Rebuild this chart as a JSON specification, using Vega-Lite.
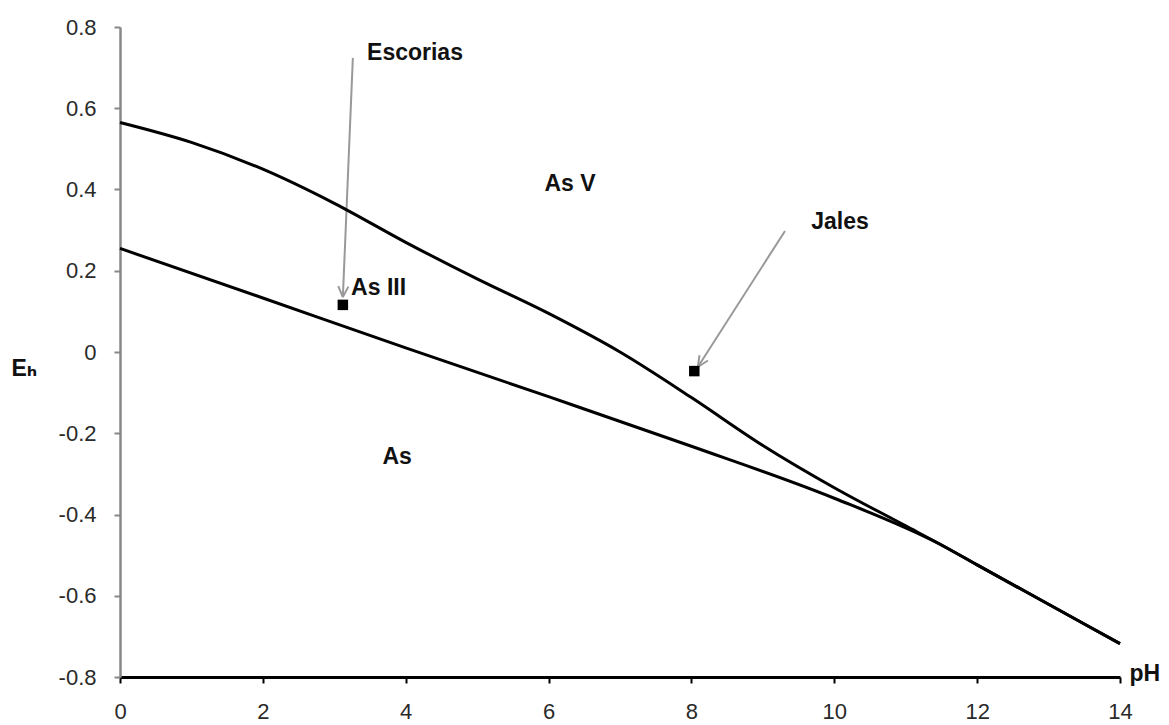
{
  "$schema": "https://vega.github.io/schema/vega-lite/v6.json",
  "width": 1000,
  "height": 650,
  "autosize": {"type": "none"},
  "padding": {"left": 120, "top": 27, "right": 49, "bottom": 48},
  "background": "white",
  "config": {
    "view": {"stroke": null},
    "font": "Liberation Sans",
    "axis": {"grid": false}
  },
  "datasets": {
    "curves": [
      {"boundary": "AsV/AsIII", "pH": 0, "E": 0.565},
      {"boundary": "AsV/AsIII", "pH": 1, "E": 0.516},
      {"boundary": "AsV/AsIII", "pH": 2, "E": 0.45},
      {"boundary": "AsV/AsIII", "pH": 3, "E": 0.366},
      {"boundary": "AsV/AsIII", "pH": 4, "E": 0.27},
      {"boundary": "AsV/AsIII", "pH": 5, "E": 0.18},
      {"boundary": "AsV/AsIII", "pH": 6, "E": 0.095},
      {"boundary": "AsV/AsIII", "pH": 7, "E": 0.0},
      {"boundary": "AsV/AsIII", "pH": 8, "E": -0.112},
      {"boundary": "AsV/AsIII", "pH": 9, "E": -0.23},
      {"boundary": "AsV/AsIII", "pH": 10, "E": -0.334},
      {"boundary": "AsV/AsIII", "pH": 11, "E": -0.428},
      {"boundary": "AsV/AsIII", "pH": 11.5, "E": -0.475},
      {"boundary": "AsV/AsIII", "pH": 12, "E": -0.524},
      {"boundary": "AsV/AsIII", "pH": 13, "E": -0.621},
      {"boundary": "AsV/AsIII", "pH": 14, "E": -0.718},
      {"boundary": "AsIII/As", "pH": 0, "E": 0.255},
      {"boundary": "AsIII/As", "pH": 2, "E": 0.133},
      {"boundary": "AsIII/As", "pH": 4, "E": 0.01},
      {"boundary": "AsIII/As", "pH": 6, "E": -0.11},
      {"boundary": "AsIII/As", "pH": 8, "E": -0.232},
      {"boundary": "AsIII/As", "pH": 10, "E": -0.36},
      {"boundary": "AsIII/As", "pH": 11.5, "E": -0.475},
      {"boundary": "AsIII/As", "pH": 12, "E": -0.524},
      {"boundary": "AsIII/As", "pH": 13, "E": -0.621},
      {"boundary": "AsIII/As", "pH": 14, "E": -0.718}
    ],
    "samples": [
      {"sample": "Escorias", "pH": 3.12, "E": 0.116},
      {"sample": "Jales", "pH": 8.04, "E": -0.047}
    ],
    "arrows": [
      {"part": "shaft", "pH": 3.26, "E": 0.724, "pH2": 3.12, "E2": 0.135},
      {"part": "head", "pH": 3.12, "E": 0.135, "pH2": 3.197, "E2": 0.161},
      {"part": "head", "pH": 3.12, "E": 0.135, "pH2": 3.056, "E2": 0.162},
      {"part": "shaft", "pH": 9.31, "E": 0.298, "pH2": 8.09, "E2": -0.037},
      {"part": "head", "pH": 8.09, "E": -0.037, "pH2": 8.231, "E2": -0.021},
      {"part": "head", "pH": 8.09, "E": -0.037, "pH2": 8.112, "E2": -0.008}
    ],
    "labels": [
      {"text": "As V", "pH": 6.3, "E": 0.414},
      {"text": "As III", "pH": 3.62, "E": 0.158},
      {"text": "As", "pH": 3.88, "E": -0.258},
      {"text": "Escorias", "pH": 4.13, "E": 0.736},
      {"text": "Jales", "pH": 10.08, "E": 0.32}
    ]
  },
  "layer": [
    {
      "data": {"name": "arrows"},
      "mark": {"type": "rule", "color": "#999999", "strokeWidth": 2},
      "encoding": {
        "x": {"field": "pH", "type": "quantitative"},
        "y": {"field": "E", "type": "quantitative"},
        "x2": {"field": "pH2"},
        "y2": {"field": "E2"}
      }
    },
    {
      "data": {"name": "curves"},
      "mark": {"type": "line", "color": "black", "strokeWidth": 3, "interpolate": "monotone"},
      "encoding": {
        "x": {
          "field": "pH", "type": "quantitative",
          "scale": {"domain": [0, 14], "nice": false, "zero": false},
          "axis": {
            "values": [0, 2, 4, 6, 8, 10, 12, 14],
            "format": "d",
            "title": "pH",
            "titleFont": "Liberation Sans",
            "titleFontSize": 23,
            "titleFontWeight": "bold",
            "titleColor": "#111111",
            "titleAnchor": null,
            "titleAlign": "left",
            "titleBaseline": "alphabetic",
            "titleX": 1009,
            "titleY": 3,
            "domainColor": "black",
            "domainWidth": 3,
            "tickColor": "black",
            "tickWidth": 2,
            "tickSize": 6,
            "labelFontSize": 22,
            "labelColor": "#2a2a2a",
            "labelPadding": 18,
            "labelFlush": false
          }
        },
        "y": {
          "field": "E", "type": "quantitative",
          "scale": {"domain": [-0.8, 0.8], "nice": false, "zero": false},
          "axis": {
            "values": [-0.8, -0.6, -0.4, -0.2, 0, 0.2, 0.4, 0.6, 0.8],
            "labelExpr": "datum.value == 0 ? '0' : (datum.value < 0 ? '-' + format(-datum.value, '.1f') : format(datum.value, '.1f'))",
            "title": "Eₕ",
            "titleFont": "Liberation Sans, DejaVu Sans",
            "titleFontSize": 23,
            "titleFontWeight": "bold",
            "titleColor": "#111111",
            "titleAngle": 0,
            "titleAnchor": null,
            "titleAlign": "left",
            "titleBaseline": "alphabetic",
            "titleX": -109,
            "titleY": 348,
            "domainColor": "#888888",
            "domainWidth": 2.5,
            "tickColor": "#888888",
            "tickWidth": 2,
            "tickSize": 6,
            "labelFontSize": 22,
            "labelColor": "#2a2a2a",
            "labelPadding": 18,
            "labelFlush": false
          }
        },
        "detail": {"field": "boundary"}
      }
    },
    {
      "data": {"name": "samples"},
      "mark": {"type": "point", "shape": "square", "filled": true, "color": "black", "size": 110, "opacity": 1},
      "encoding": {
        "x": {"field": "pH", "type": "quantitative"},
        "y": {"field": "E", "type": "quantitative"}
      }
    },
    {
      "data": {"name": "labels"},
      "mark": {"type": "text", "font": "Liberation Sans", "fontSize": 23, "fontWeight": "bold", "color": "#111111", "align": "center", "baseline": "middle"},
      "encoding": {
        "x": {"field": "pH", "type": "quantitative"},
        "y": {"field": "E", "type": "quantitative"},
        "text": {"field": "text"}
      }
    }
  ]
}
